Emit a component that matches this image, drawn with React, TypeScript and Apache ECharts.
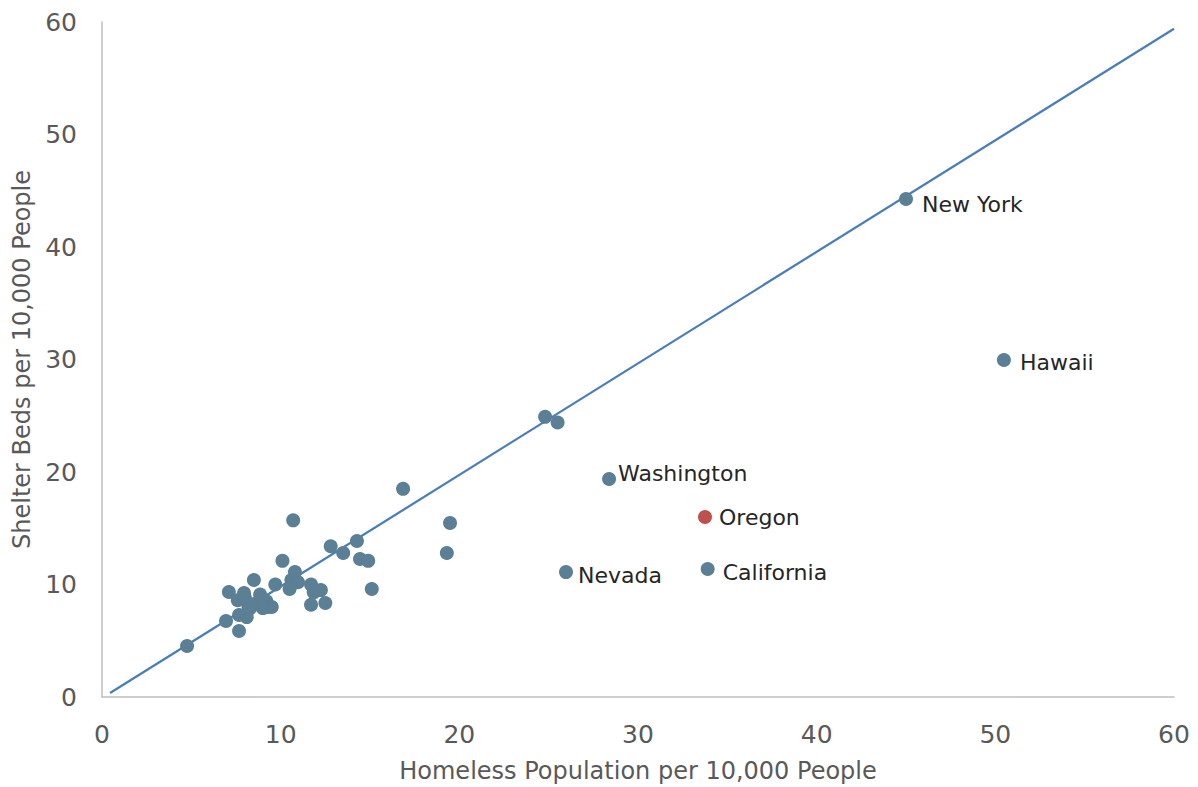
import React, { useEffect, useRef } from "react";
import * as echarts from "echarts";

const homelessRate = [
  4.76, 6.94, 7.1, 7.67, 7.67, 7.6, 7.95, 8.1, 8.2, 8.5, 8.6, 8.85, 9.0, 9.3, 9.2, 9.5, 9.7, 10.1,
  10.5, 10.6, 10.7, 10.8, 10.97, 11.7, 11.7, 11.85, 12.25, 12.5, 12.8, 13.5, 14.27, 14.44, 14.9,
  15.1, 16.85, 19.3, 19.48, 24.8, 25.5, 8.3, 8.0, 9.0,
];
const shelterRate = [
  4.53, 6.76, 9.33, 5.87, 7.29, 8.6, 9.24, 7.1, 8.0, 10.4, 8.3, 9.1, 8.6, 8.0, 8.5, 8.0, 10.0, 12.1,
  9.6, 10.4, 15.7, 11.1, 10.2, 10.0, 8.2, 9.3, 9.5, 8.36, 13.4, 12.8, 13.87, 12.27, 12.1, 9.6, 18.5,
  12.8, 15.47, 24.9, 24.4, 7.9, 8.8, 7.9,
];

const labeledStates = ["New York", "Hawaii", "Washington", "Nevada", "California"];
const labeledX = [45.0, 50.48, 28.38, 25.97, 33.9];
const labeledY = [44.27, 29.96, 19.38, 11.1, 11.38];

const oregonX = 33.75;
const oregonY = 16.0;

const trendX = [0.45, 60];
const trendY = [0.36, 59.4];

const FONT = "DejaVu Sans, sans-serif";

export default function App() {
  const ref = useRef<HTMLDivElement>(null);
  useEffect(() => {
    if (!ref.current) return;
    const chart = echarts.init(ref.current, null, { renderer: "svg" });
    const dotColor = "#5b7f95";
    const plain = homelessRate.map((x, i) => [x, shelterRate[i]]);
    const named = labeledStates.map((n, i) => ({ name: n, value: [labeledX[i], labeledY[i]] }));
    const labelOffsets: Record<string, number[]> = {
      "New York": [4, 6],
      Hawaii: [4, 3],
      Washington: [-3, -5],
      Nevada: [0, 3],
      California: [3, 4],
      Oregon: [2, 0],
    };
    const labelStyle = (name: string) => ({
      show: true,
      position: "right",
      formatter: "{b}",
      offset: labelOffsets[name],
      color: "#262626",
      fontSize: 22,
      fontFamily: FONT,
    });
    chart.setOption({
      animation: false,
      grid: { left: 102, right: 24, top: 22, bottom: 90, outerBoundsMode: "none", containLabel: false },
      xAxis: {
        type: "value",
        min: 0,
        max: 60,
        interval: 10,
        name: "Homeless Population per 10,000 People",
        nameLocation: "middle",
        nameGap: 62,
        nameTextStyle: { color: "#595959", fontSize: 24, fontFamily: FONT },
        axisLine: { show: true, lineStyle: { color: "#bfbfbf", width: 1.5 } },
        axisTick: { show: false },
        splitLine: { show: false },
        axisLabel: { color: "#595959", fontSize: 25, margin: 25, fontFamily: FONT },
      },
      yAxis: {
        type: "value",
        min: 0,
        max: 60,
        interval: 10,
        name: "Shelter Beds per 10,000 People",
        nameLocation: "middle",
        nameGap: 68,
        nameRotate: 90,
        nameTextStyle: { color: "#595959", fontSize: 24, fontFamily: FONT },
        axisLine: { show: true, lineStyle: { color: "#bfbfbf", width: 1.5 } },
        axisTick: { show: false },
        splitLine: { show: false },
        axisLabel: { color: "#595959", fontSize: 25, margin: 25, fontFamily: FONT },
      },
      series: [
        {
          type: "line",
          data: trendX.map((x, i) => [x, trendY[i]]),
          showSymbol: false,
          lineStyle: { color: "#4a7ebb", width: 2.25 },
          z: 1,
        },
        {
          type: "scatter",
          data: plain,
          symbolSize: 14,
          itemStyle: { color: dotColor, opacity: 1 },
          z: 2,
        },
        {
          type: "scatter",
          data: named.map((d) => ({ ...d, label: labelStyle(d.name) })),
          symbolSize: 14,
          itemStyle: { color: dotColor, opacity: 1 },
          z: 3,
        },
        {
          type: "scatter",
          data: [{ name: "Oregon", value: [oregonX, oregonY], label: labelStyle("Oregon") }],
          symbolSize: 14,
          itemStyle: { color: "#c0504d", opacity: 1 },
          z: 3,
        },
      ],
    });
    return () => chart.dispose();
  }, []);
  return <div ref={ref} style={{ width: 1198, height: 787, position: "absolute", left: 0, top: 0 }} />;
}
